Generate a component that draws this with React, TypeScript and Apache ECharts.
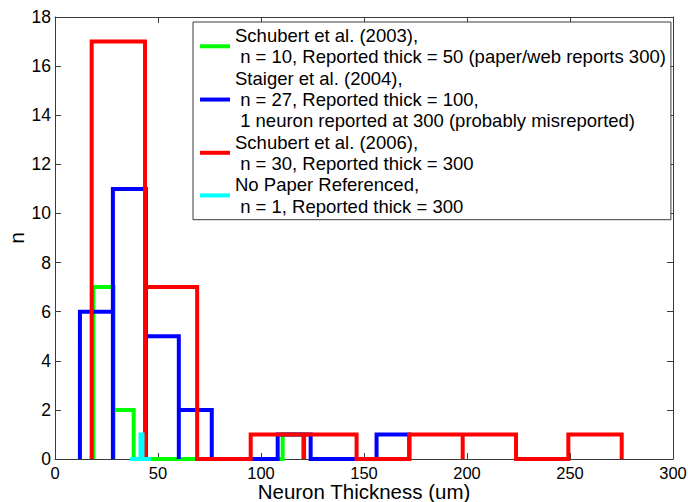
import React, { useEffect, useRef } from "react";
import * as echarts from "echarts";

// Histogram bin edges and counts per data set (thickness in um)
const greenEdges = [18.6, 28.4, 38.2, 110.5, 120.4];
const greenCounts = [7, 2, 0, 1];

const blueEdges = [12.1, 28.1, 44.1, 60.1, 76.1, 92.1, 108.1, 124.1, 140.1, 156.1, 172.0];
const blueCounts = [6, 11, 5, 2, 0, 0, 1, 0, 0, 1];

const redEdges = [17.8, 43.7, 69.0, 95.0, 120.9, 146.4, 172.0, 197.9, 223.8, 249.2, 275.1];
const redCounts = [17, 7, 0, 1, 1, 0, 1, 1, 0, 1];

const cyanEdges = [36.5, 41.5, 42.5, 46.5];
const cyanCounts = [0, 1, 0];

const seriesNames = [
  "Schubert et al. (2003)",
  "Staiger et al. (2004)",
  "Schubert et al. (2006)",
  "No Paper Referenced",
];
const seriesColors = ["#00ff00", "#0000ff", "#ff0000", "#00ffff"];

const legendLines: string[][] = [
  ["Schubert et al. (2003),", " n = 10, Reported thick = 50 (paper/web reports 300)"],
  ["Staiger et al. (2004),", " n = 27, Reported thick = 100,", " 1 neuron reported at 300 (probably misreported)"],
  ["Schubert et al. (2006),", " n = 30, Reported thick = 300"],
  ["No Paper Referenced,", " n = 1, Reported thick = 300"],
];

const xTicks = { min: 0, max: 300, interval: 50 };
const yTicks = { min: 0, max: 18, interval: 2 };

const xLabel = "Neuron Thickness (um)";
const yLabel = "n";

// Outline of a histogram as a single stroked path: each bar is drawn as
// its left side, top and right side; empty bins run along the baseline.
function outline(edges: number[], counts: number[]): number[][] {
  const pts: number[][] = [];
  for (let i = 0; i < counts.length; i++) {
    pts.push([edges[i], 0]);
    pts.push([edges[i], counts[i]]);
    pts.push([edges[i + 1], counts[i]]);
    pts.push([edges[i + 1], 0]);
  }
  return pts;
}

const FONT = "'Liberation Sans', Arial, Helvetica, sans-serif";

export default function App() {
  const ref = useRef<HTMLDivElement>(null);

  useEffect(() => {
    if (!ref.current) return;
    const chart = echarts.init(ref.current, undefined, { renderer: "svg" });

    const hist = [
      outline(greenEdges, greenCounts),
      outline(blueEdges, blueCounts),
      outline(redEdges, redCounts),
      outline(cyanEdges, cyanCounts),
    ];

    const legendMap: Record<string, string> = {};
    seriesNames.forEach((n, i) => {
      legendMap[n] = legendLines[i].map((l) => l.replace(/^ /, "\u00a0")).join("\n");
    });

    const axisColor = "#3a3a3a";
    const tickStyle = { show: true, inside: true, length: 6, lineStyle: { color: axisColor, width: 1 } };

    chart.setOption({
      animation: false,
      backgroundColor: "#ffffff",
      grid: {
        left: 55,
        top: 17,
        width: 618,
        height: 442,
        containLabel: false,
        outerBoundsMode: "none",
      },
      legend: {
        data: seriesNames,
        orient: "vertical",
        left: 193,
        top: 22,
        itemGap: 0,
        itemWidth: 30,
        itemHeight: 4,
        icon: "rect",
        padding: [3, 5, 3, 7],
        backgroundColor: "#ffffff",
        borderColor: axisColor,
        borderWidth: 1,
        borderRadius: 0,
        selectedMode: false,
        formatter: (name: string) => legendMap[name],
        textStyle: { fontFamily: FONT, fontSize: 18.5, lineHeight: 21.3, color: "#000" },
      },
      xAxis: [
        {
          type: "value",
          min: xTicks.min,
          max: xTicks.max,
          interval: xTicks.interval,
          name: xLabel,
          nameLocation: "middle",
          nameGap: 23.5,
          nameMoveOverlap: false,
          nameTextStyle: { fontFamily: FONT, fontSize: 20.5, lineHeight: 18, color: "#000" },
          axisLine: { show: true, onZero: false, lineStyle: { color: axisColor, width: 1 } },
          axisTick: tickStyle,
          axisLabel: { fontFamily: FONT, fontSize: 16.5, lineHeight: 16, color: "#000", margin: 5.5 },
          splitLine: { show: false },
        },
        {
          type: "value",
          position: "top",
          min: xTicks.min,
          max: xTicks.max,
          interval: xTicks.interval,
          axisLine: { show: true, onZero: false, lineStyle: { color: axisColor, width: 1 } },
          axisTick: tickStyle,
          axisLabel: { show: false },
          splitLine: { show: false },
        },
      ],
      yAxis: [
        {
          type: "value",
          min: yTicks.min,
          max: yTicks.max,
          interval: yTicks.interval,
          name: yLabel,
          nameLocation: "middle",
          nameGap: 28,
          nameMoveOverlap: false,
          nameTextStyle: { fontFamily: FONT, fontSize: 21, color: "#000" },
          axisLine: { show: true, onZero: false, lineStyle: { color: axisColor, width: 1 } },
          axisTick: tickStyle,
          axisLabel: { fontFamily: FONT, fontSize: 17.5, color: "#000", margin: 4 },
          splitLine: { show: false },
        },
        {
          type: "value",
          position: "right",
          min: yTicks.min,
          max: yTicks.max,
          interval: yTicks.interval,
          axisLine: { show: true, onZero: false, lineStyle: { color: axisColor, width: 1 } },
          axisTick: tickStyle,
          axisLabel: { show: false },
          splitLine: { show: false },
        },
      ],
      series: hist.map((data, i) => ({
        name: seriesNames[i],
        type: "line",
        data,
        xAxisIndex: 0,
        yAxisIndex: 0,
        showSymbol: false,
        symbol: "none",
        clip: false,
        color: seriesColors[i],
        itemStyle: { color: seriesColors[i] },
        lineStyle: { color: seriesColors[i], width: 4, join: "miter", cap: "butt" },
        z: 2 + i,
      })),
    });

    return () => chart.dispose();
  }, []);

  return (
    <div
      ref={ref}
      style={{ position: "fixed", left: 0, top: 0, width: 688, height: 502, background: "#fff" }}
    />
  );
}
